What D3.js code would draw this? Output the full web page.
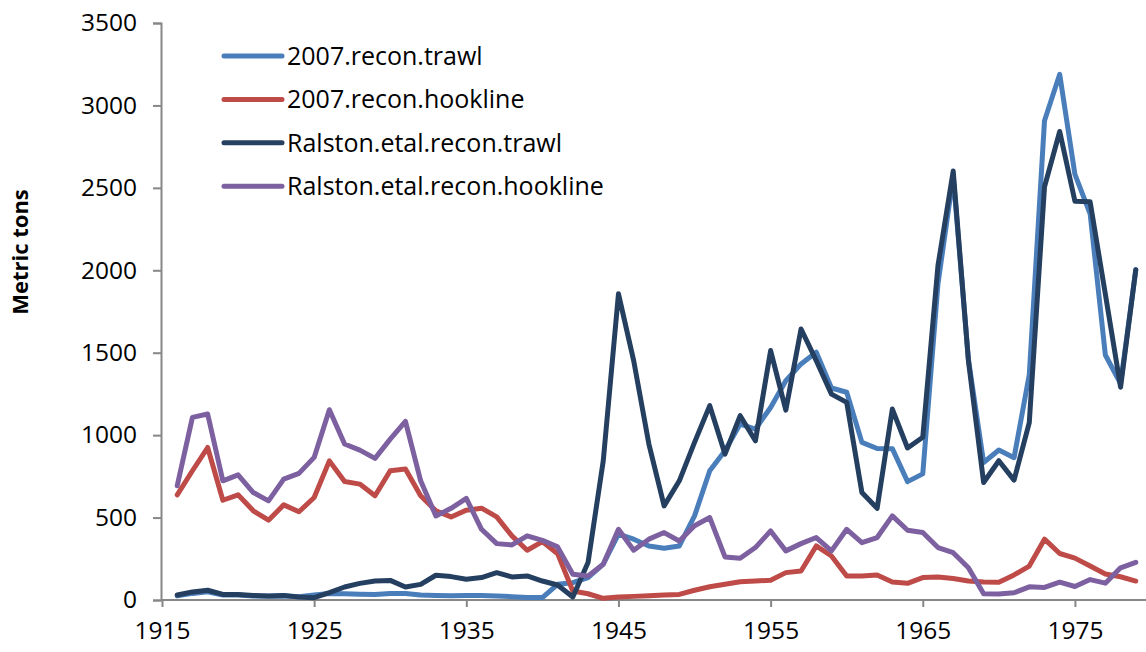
<!DOCTYPE html>
<html>
<head>
<meta charset="utf-8">
<script src="https://cdn.jsdelivr.net/npm/d3@7"></script>
<style>
  body { margin: 0; background: #fff; }
  text { font-family: 'Open Sans', sans-serif; fill: #000; }
</style>
</head>
<body>
<div class="main"></div>
<script>
var years = d3.range(1916, 1980);

var trawl2007 = [25, 40, 50, 30, 30, 25, 22, 25, 20, 30, 40, 38, 35, 33, 40, 40, 30, 28, 26, 28,
    28, 25, 20, 15, 15, 95, 105, 136, 217, 400, 369, 328, 314, 328, 510, 784, 905, 1067, 1037, 1168,
    1330, 1432, 1503, 1286, 1260, 956, 919, 918, 718, 765, 1918, 2570, 1460, 834, 910, 863, 1367, 2907, 3189, 2582,
    2343, 1486, 1313, 2003];
var hook2007 = [638, 784, 925, 605, 638, 541, 484, 577, 535, 622, 844, 719, 703, 632, 784, 794, 632, 541, 504, 545,
    557, 504, 389, 302, 354, 281, 55, 38, 10, 18, 22, 26, 30, 34, 59, 80, 95, 111, 115, 120,
    166, 176, 328, 267, 146, 146, 152, 109, 101, 136, 140, 130, 115, 109, 108, 152, 206, 369, 282, 254,
    206, 158, 141, 115];
var trawlRalston = [30, 49, 59, 34, 34, 28, 24, 28, 18, 14, 45, 79, 101, 115, 119, 79, 95, 150, 142, 126,
    136, 166, 140, 146, 115, 91, 18, 227, 844, 1857, 1452, 946, 571, 723, 956, 1179, 885, 1118, 966, 1513,
    1152, 1644, 1452, 1249, 1199, 652, 556, 1158, 922, 987, 2029, 2602, 1452, 713, 845, 727, 1076, 2506, 2842, 2419,
    2415, 1855, 1291, 2003];
var hookRalston = [693, 1108, 1128, 723, 759, 652, 601, 733, 768, 865, 1154, 946, 909, 859, 976, 1083, 723, 510, 556, 616,
    429, 342, 334, 389, 362, 322, 156, 146, 217, 429, 302, 369, 409, 358, 450, 500, 261, 253, 318, 419,
    298, 342, 379, 298, 429, 348, 379, 510, 423, 409, 318, 287, 196, 38, 36, 44, 80, 76, 108, 82,
    124, 102, 195, 228];

var seriesNames = ['2007.recon.trawl', '2007.recon.hookline', 'Ralston.etal.recon.trawl', 'Ralston.etal.recon.hookline'];
var seriesColors = ['#4a7ebb', '#be4b48', '#243f60', '#7d60a0'];
var xTicks = [1915, 1925, 1935, 1945, 1955, 1965, 1975];
var yTicks = [0, 500, 1000, 1500, 2000, 2500, 3000, 3500];

var options = {
    'width': 1146,
    'height': 652,
};

var svg = d3.select('.main')
    .append('svg')
    .attr('width', options.width)
    .attr('height', options.height);

var x = d3.scaleLinear().domain([1915, 1980]).range([162, 1151]);
var y = d3.scaleLinear().domain([0, 3500]).range([600, 23]);

// axes
var yAxis = svg.append('g')
    .attr('transform', 'translate(161,0)')
    .call(d3.axisLeft(y).tickValues(yTicks).tickSize(8).tickPadding(16).tickFormat(d3.format('d')));
var xAxis = svg.append('g')
    .attr('transform', 'translate(0,600)')
    .call(d3.axisBottom(x).tickValues(xTicks).tickSize(7).tickPadding(15).tickFormat(d3.format('d')));

[xAxis, yAxis].forEach(function (ax) {
    ax.select('.domain').style('stroke', '#878787').style('stroke-width', '2px');
    ax.selectAll('.tick line').style('stroke', '#878787').style('stroke-width', '2px');
    ax.selectAll('.tick text')
        .style('font-family', "'Open Sans', sans-serif")
        .style('font-size', '24.5px')
        .style('fill', '#000');
});
xAxis.select('.domain').attr('d', 'M161,0H1146');

svg.append('text')
    .text('Metric tons')
    .attr('transform', 'translate(28,252) rotate(-90)')
    .attr('text-anchor', 'middle')
    .style('font-size', '22px')
    .style('font-weight', 'bold');

// lines
var allSeries = [trawl2007, hook2007, trawlRalston, hookRalston];

var line = d3.line()
    .x(function (d, i) { return x(years[i]); })
    .y(function (d) { return y(d); });

svg.selectAll('.series')
    .data(allSeries)
    .enter()
    .append('path')
    .attr('class', 'series')
    .attr('d', line)
    .style('fill', 'none')
    .style('stroke', function (d, i) { return seriesColors[i]; })
    .style('stroke-width', '5px')
    .style('stroke-linejoin', 'round')
    .style('stroke-linecap', 'round');

// legend
var legend = svg.selectAll('.legend')
    .data(seriesNames)
    .enter()
    .append('g')
    .attr('class', 'legend')
    .attr('transform', function (d, i) {
        return 'translate(' + [224, 56 + i * 43.4] + ')';
    });

legend.append('line')
    .attr('x1', 0)
    .attr('x2', 58)
    .style('stroke', function (d, i) { return seriesColors[i]; })
    .style('stroke-width', '5px')
    .style('stroke-linecap', 'round');

legend.append('text')
    .text(function (d) { return d; })
    .attr('x', 63)
    .attr('dy', '0.35em')
    .style('font-size', '25px');
</script>
</body>
</html>
